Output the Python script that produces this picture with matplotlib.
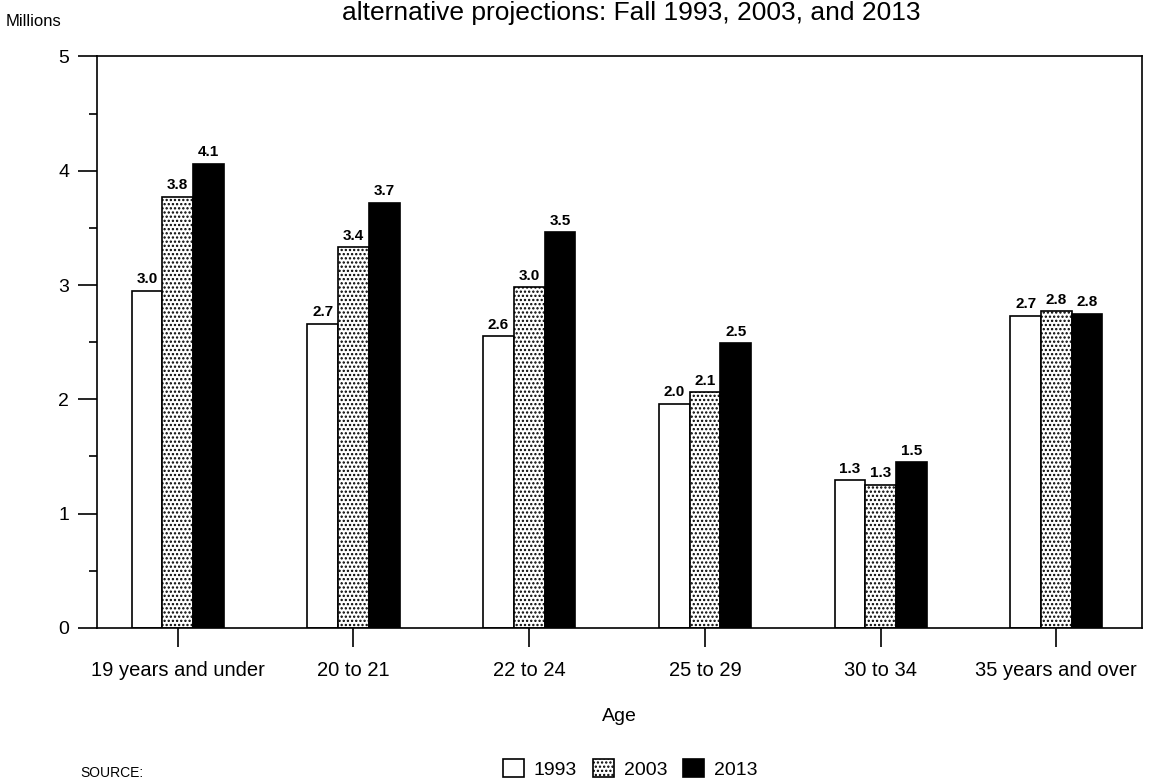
import numpy as np
import matplotlib.pyplot as plt

plt.rcParams['font.family'] = ['Liberation Sans', 'DejaVu Sans']
plt.rcParams['hatch.linewidth'] = 1.1

ages = ['19 years and under', '20 to 21', '22 to 24', '25 to 29', '30 to 34', '35 years and over']
years = ['1993', '2003', '2013']

v1993 = [2.95, 2.66, 2.55, 1.96, 1.29, 2.73]
v2003 = [3.77, 3.33, 2.98, 2.06, 1.25, 2.77]
v2013 = [4.06, 3.72, 3.46, 2.49, 1.45, 2.75]

lab1993 = ['3.0', '2.7', '2.6', '2.0', '1.3', '2.7']
lab2003 = ['3.8', '3.4', '3.0', '2.1', '1.3', '2.8']
lab2013 = ['4.1', '3.7', '3.5', '2.5', '1.5', '2.8']

fig = plt.figure(figsize=(11.54, 7.83), dpi=100)
ax = fig.add_axes([0.084, 0.198, 0.906, 0.730])

x = np.arange(len(ages))
w = 0.175

b1 = ax.bar(x - w, v1993, w, color='white', edgecolor='black', linewidth=1.2, label=years[0])
b2 = ax.bar(x, v2003, w, color='white', edgecolor='black', linewidth=1.2, hatch='....', label=years[1])
b3 = ax.bar(x + w, v2013, w, color='black', edgecolor='black', linewidth=1.2, label=years[2])

for bars, labs in [(b1, lab1993), (b2, lab2003), (b3, lab2013)]:
    for b, t in zip(bars, labs):
        ax.text(b.get_x() + b.get_width() / 2, b.get_height() + 0.04, t,
                ha='center', va='bottom', fontsize=11, fontweight='bold')

ax.set_xlim(-0.46, 5.49)
ax.set_ylim(0, 5)
ax.set_yticks(np.arange(0, 6, 1))
ax.set_yticks(np.arange(0.5, 5, 1), minor=True)
ax.set_xticks(x)
ax.set_xticklabels(ages, fontsize=14.5)
ax.tick_params(axis='y', which='major', length=14, width=1.2, labelsize=14, pad=6)
ax.tick_params(axis='y', which='minor', length=6, width=1.2)
ax.tick_params(axis='x', length=14, width=1.2, pad=10)
for s in ax.spines.values():
    s.set_linewidth(1.2)

ax.set_xlabel('Age', fontsize=14, labelpad=20)

fig.text(0.005, 0.972, 'Millions', fontsize=12, va='center', ha='left')
fig.text(0.547, 0.983, 'alternative projections: Fall 1993, 2003, and 2013',
         fontsize=19, ha='center', va='center')
fig.text(0.07, 0.004, 'SOURCE:', fontsize=10, ha='left', va='bottom')

ax.legend(loc='upper center', bbox_to_anchor=(0.51, -0.205), ncol=3, frameon=False,
          fontsize=14, handlelength=1.1, handleheight=1.1, handletextpad=0.5,
          columnspacing=0.8, borderpad=0.2)

fig.savefig('out.png', dpi=100)
